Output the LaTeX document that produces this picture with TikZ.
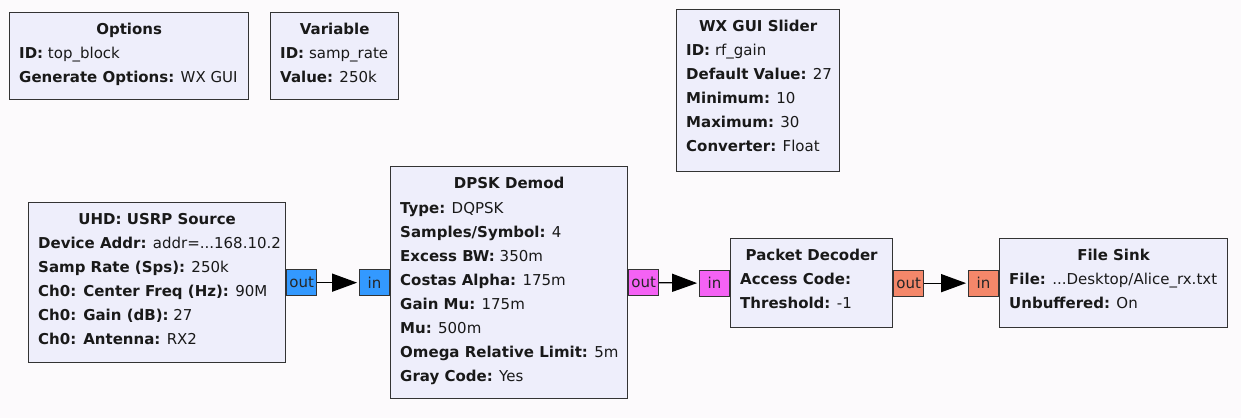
\documentclass[tikz,border=0pt]{standalone}
\usepackage{fontspec}
\setmainfont{DejaVu Sans}
\usetikzlibrary{arrows.meta,calc}

\definecolor{canvas}{HTML}{FCFAFC}
\definecolor{blockfill}{HTML}{EEEEFB}
\definecolor{blockedge}{HTML}{333333}
\definecolor{cplxport}{HTML}{3399FF}
\definecolor{byteport}{HTML}{F462F4}
\definecolor{charport}{HTML}{F4876A}

% one text row of a block: name, block, offset below the top edge, text
\newcommand\rowtext[4]{\node[rowline] (#1) at ($(#2.north west)+(10,#3)$) {#4};}
% block title, centred under the top edge
\newcommand\titletext[3]{\node[rowtitle] (#1) at ($(#2.north)+(0,19.5)$) {\textbf{#3}};}

\tikzset{
  grcblock/.style={draw=blockedge, fill=blockfill, line width=1.3pt,
    rectangle, inner sep=0pt, anchor=north west},
  rowtitle/.style={anchor=mid, inner sep=0pt, text=black!90,
    font=\fontsize{15}{18}\selectfont},
  rowline/.style={anchor=mid west, inner sep=0pt, text=black!90,
    font=\fontsize{15}{18}\selectfont},
  port/.style={draw=blockedge, line width=0.9pt, rectangle,
    minimum width=30pt, minimum height=26pt, inner sep=0pt,
    text=black!85, font=\fontsize{15}{18}\selectfont},
  wire/.style={line width=1.3pt, draw=black, shorten >=2pt,
    -{Triangle[length=25pt,width=18pt]}},
}

\begin{document}
\begin{tikzpicture}[x=1pt,y=-1pt]
\fill[canvas] (0,0) rectangle (1241,418);
\useasboundingbox (0,0) rectangle (1241,418);

% ---------- Options ----------
\node[grcblock, minimum width=239pt, minimum height=87pt] (opt) at (9,12) {};
\titletext{opt-t}{opt}{Options}
\rowtext{opt-1}{opt}{43.5}{\textbf{ID:} top\_block}
\rowtext{opt-2}{opt}{67.5}{\textbf{Generate Options:} WX GUI}

% ---------- Variable ----------
\node[grcblock, minimum width=128pt, minimum height=87pt] (var) at (270,12) {};
\titletext{var-t}{var}{Variable}
\rowtext{var-1}{var}{43.5}{\textbf{ID:} samp\_rate}
\rowtext{var-2}{var}{67.5}{\textbf{Value:} 250k}

% ---------- WX GUI Slider ----------
\node[grcblock, minimum width=163pt, minimum height=162pt] (sld) at (676,9) {};
\titletext{sld-t}{sld}{WX GUI Slider}
\rowtext{sld-1}{sld}{43.5}{\textbf{ID:} rf\_gain}
\rowtext{sld-2}{sld}{67.5}{\textbf{Default Value:} 27}
\rowtext{sld-3}{sld}{91.5}{\textbf{Minimum:} 10}
\rowtext{sld-4}{sld}{115.5}{\textbf{Maximum:} 30}
\rowtext{sld-5}{sld}{139.5}{\textbf{Converter:} Float}

% ---------- UHD: USRP Source ----------
\node[grcblock, minimum width=257pt, minimum height=160pt] (usrp) at (28,202) {};
\titletext{usrp-t}{usrp}{UHD: USRP Source}
\rowtext{usrp-1}{usrp}{43.5}{\textbf{Device Addr:} addr=...168.10.2}
\rowtext{usrp-2}{usrp}{67.5}{\textbf{Samp Rate (Sps):} 250k}
\rowtext{usrp-3}{usrp}{91.5}{\textbf{Ch0: Center Freq (Hz):} 90M}
\rowtext{usrp-4}{usrp}{115.5}{\textbf{Ch0: Gain (dB):} 27}
\rowtext{usrp-5}{usrp}{139.5}{\textbf{Ch0: Antenna:} RX2}

% ---------- DPSK Demod ----------
\node[grcblock, minimum width=237pt, minimum height=232pt] (dpsk) at (390,166) {};
\titletext{dpsk-t}{dpsk}{DPSK Demod}
\rowtext{dpsk-1}{dpsk}{44.5}{\textbf{Type:} DQPSK}
\rowtext{dpsk-2}{dpsk}{68.5}{\textbf{Samples/Symbol:} 4}
\rowtext{dpsk-3}{dpsk}{92.5}{\textbf{Excess BW:} 350m}
\rowtext{dpsk-4}{dpsk}{116.5}{\textbf{Costas Alpha:} 175m}
\rowtext{dpsk-5}{dpsk}{140.5}{\textbf{Gain Mu:} 175m}
\rowtext{dpsk-6}{dpsk}{164.5}{\textbf{Mu:} 500m}
\rowtext{dpsk-7}{dpsk}{188.5}{\textbf{Omega Relative Limit:} 5m}
\rowtext{dpsk-8}{dpsk}{212.5}{\textbf{Gray Code:} Yes}

% ---------- Packet Decoder ----------
\node[grcblock, minimum width=162pt, minimum height=89pt] (pd) at (730,238) {};
\titletext{pd-t}{pd}{Packet Decoder}
\rowtext{pd-1}{pd}{43.5}{\textbf{Access Code:}}
\rowtext{pd-2}{pd}{67.5}{\textbf{Threshold:} -1}

% ---------- File Sink ----------
\node[grcblock, minimum width=228pt, minimum height=89pt] (fs) at (999,238) {};
\titletext{fs-t}{fs}{File Sink}
\rowtext{fs-1}{fs}{43.5}{\textbf{File:} ...Desktop/Alice\_rx.txt}
\rowtext{fs-2}{fs}{67.5}{\textbf{Unbuffered:} On}

% ---------- ports ----------
\node[port, fill=cplxport, anchor=west] (usrp-out) at (usrp.east) {out};
\node[port, fill=cplxport, anchor=east] (dpsk-in)  at (dpsk.west) {in};
\node[port, fill=byteport, anchor=west] (dpsk-out) at (dpsk.east) {out};
\node[port, fill=byteport, anchor=east] (pd-in)    at (pd.west)   {in};
\node[port, fill=charport, anchor=west] (pd-out)   at (pd.east)   {out};
\node[port, fill=charport, anchor=east] (fs-in)    at (fs.west)   {in};

% ---------- connections ----------
\draw[wire] (usrp-out.east) -- (dpsk-in.west);
\draw[wire] (dpsk-out.east) -- (pd-in.west);
\draw[wire] (pd-out.east)   -- (fs-in.west);
\end{tikzpicture}
\end{document}
